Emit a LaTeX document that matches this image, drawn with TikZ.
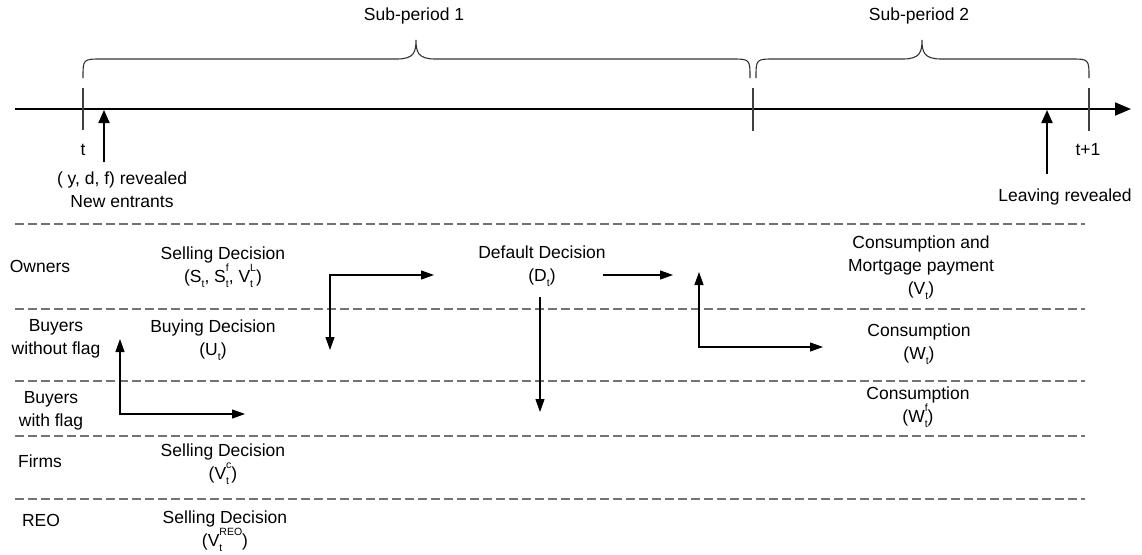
\documentclass[tikz,border=0pt]{standalone}
\usepackage{fontspec}
\setmainfont{Liberation Sans}
\usetikzlibrary{arrows.meta}
\newcommand{\smallidx}[1]{{\fontsize{10.5}{10.5}\selectfont #1}}
\newcommand{\tsub}[1]{\raisebox{-0.28em}{\smallidx{#1}}}
\newcommand{\tsubsup}[2]{\rlap{\raisebox{-0.28em}{\smallidx{#1}}}\raisebox{0.62em}{\smallidx{#2}}}
\begin{document}
\begin{tikzpicture}[x=1pt,y=-1pt,
  font=\fontsize{17.5}{23}\selectfont,
  lbl/.style={align=center, inner sep=0pt},
  dashline/.style={draw=black!55, line width=1.4pt, dash pattern=on 8.5pt off 4.5pt},
  tickline/.style={draw=black!75, line width=1.1pt},
  bracepath/.style={draw=black!80, line width=1.1pt},
  axis/.style={line width=1.8pt, -{Triangle[length=16pt,width=13pt]}},
  eventarrow/.style={line width=2pt, -{Triangle[length=13pt,width=11pt]}},
  onearrow/.style={line width=1.2pt, -{Triangle[length=13pt,width=9pt]}},
  twoarrow/.style={line width=1.2pt, {Triangle[length=13pt,width=9pt]}-{Triangle[length=13pt,width=9pt]}}]
\useasboundingbox (0,0) rectangle (1142,554);

% timeline
\coordinate (ax0) at (15,109);
\coordinate (ax1) at (1131,109);
\draw[axis] (ax0) -- (ax1);

\coordinate (tA) at (83,88);   \coordinate (tAb) at (83,130);
\coordinate (tB) at (753,88);  \coordinate (tBb) at (753,131);
\coordinate (tC) at (1089,88); \coordinate (tCb) at (1089,131);
\draw[tickline] (tA) -- (tAb);
\draw[tickline] (tB) -- (tBb);
\draw[tickline] (tC) -- (tCb);

% braces
\draw[bracepath] (83,78) .. controls (83,59) .. (102,59) -- (397,59)
  .. controls (414,59) and (416,52) .. (416,40)
  .. controls (416,52) and (418,59) .. (435,59) -- (731,59)
  .. controls (750,59) .. (750,78);
\draw[bracepath] (756,78) .. controls (756,59) .. (775,59) -- (903,59)
  .. controls (920,59) and (922,52) .. (922,40)
  .. controls (922,52) and (924,59) .. (941,59) -- (1070,59)
  .. controls (1089,59) .. (1089,78);

\node[lbl] (sp1) at (414,16) {Sub-period 1};
\node[lbl] (sp2) at (919,16) {Sub-period 2};

\node[lbl] (t) at (83,150) {t};
\node[lbl] (t1) at (1088,150) {t+1};

% event arrows
\coordinate (e1s) at (104,162); \coordinate (e1e) at (104,110);
\coordinate (e2s) at (1047,174); \coordinate (e2e) at (1047,110);
\draw[eventarrow] (e1s) -- (e1e);
\draw[eventarrow] (e2s) -- (e2e);
\node[lbl] (newent) at (122,190) {( y, d, f) revealed\\New entrants};
\node[lbl] (leave) at (1065,197) {Leaving revealed};

% dashed separators
\foreach \yy in {224,309,381,436,499}
  \draw[dashline] (15,\yy) -- (1085,\yy);

% row labels
\node[lbl] (owners) at (40,266) {Owners};
\node[lbl] (bwo) at (56,339) {Buyers\\without flag};
\node[lbl] (bwf) at (51,411) {Buyers\\with flag};
\node[lbl] (firms) at (40,461) {Firms};
\node[lbl] (reo) at (41,520) {REO};

% decisions
\node[lbl] (sell) at (223,267) {Selling Decision\\(S\tsub{t}, S\tsubsup{t}{f}, V\tsubsup{t}{L})};
\node[lbl] (buy) at (213,340) {Buying Decision\\(U\tsub{t})};
\node[lbl] (def) at (542,266) {Default Decision\\(D\tsub{t})};
\node[lbl] (cons1) at (921,268) {Consumption and\\Mortgage payment\\(V\tsub{t})};
\node[lbl] (cons2) at (919,344) {Consumption\\(W\tsub{t})};
\node[lbl] (cons3) at (918,407) {Consumption\\(W\tsubsup{t}{f})};
\node[lbl] (fsell) at (223,464) {Selling Decision\\(V\tsubsup{t}{c})};
\node[lbl] (rsell) at (225,531) {Selling Decision\\(V\tsubsup{t}{REO})};

% connectors
\coordinate (a1s) at (120,339); \coordinate (a1e) at (245,414);
\draw[twoarrow] (a1s) |- (a1e);
\coordinate (a2s) at (330,350); \coordinate (a2e) at (434,275);
\draw[twoarrow] (a2s) |- (a2e);
\coordinate (a3s) at (603,275); \coordinate (a3e) at (673,275);
\draw[onearrow] (a3s) -- (a3e);
\coordinate (a4s) at (540,297); \coordinate (a4e) at (540,412);
\draw[onearrow] (a4s) -- (a4e);
\coordinate (a5s) at (699,272); \coordinate (a5e) at (823,347);
\draw[twoarrow] (a5s) |- (a5e);
\end{tikzpicture}
\end{document}
